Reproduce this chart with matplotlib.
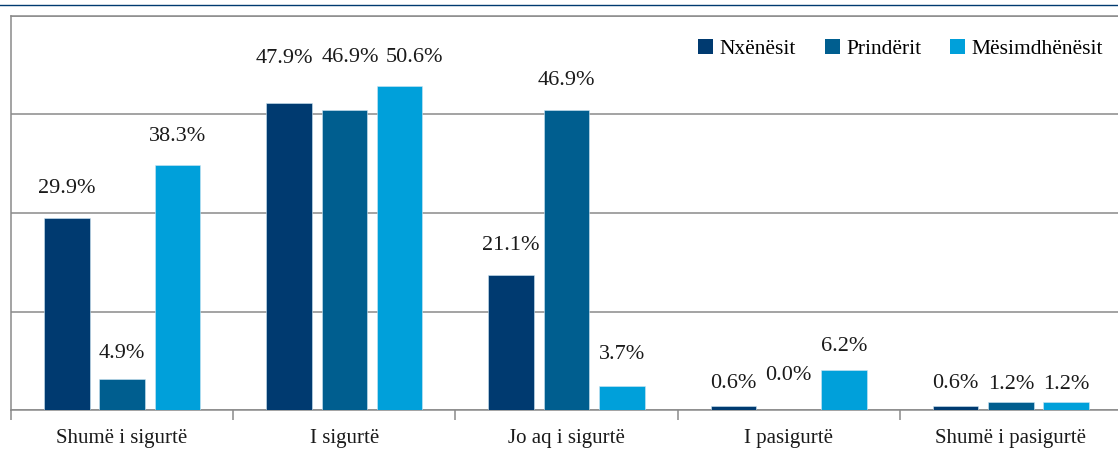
import numpy as np
import matplotlib.pyplot as plt
from matplotlib.lines import Line2D
from matplotlib.patches import Patch

plt.rcParams['font.family'] = ['Liberation Serif', 'DejaVu Serif']

categories = ['Shumë i sigurtë', 'I sigurtë', 'Jo aq i sigurtë', 'I pasigurtë', 'Shumë i pasigurtë']
series = ['Nxënësit', 'Prindërit', 'Mësimdhënësit']
nxenesit = [29.9, 47.9, 21.1, 0.6, 0.6]
prinderit = [4.9, 46.9, 46.9, 0.0, 1.2]
mesimdhenesit = [38.3, 50.6, 3.7, 6.2, 1.2]

colors = ['#003a70', '#005e8f', '#00a0da']
# pixel offsets of the value labels from the bar tops (dx, dy)
label_dy = [[30, 25, 28], [45, 52, 28], [29, 29, 32], [23, 35, 24], [23, 18, 18]]
label_dx = [[0, 0, 0], [-5, 6, 15], [0, 0, 0], [0, 0, 0], [0, 0, 0]]

fig = plt.figure(figsize=(11.18, 4.5), dpi=100)
ax = fig.add_axes([11 / 1118, 40 / 450, 1111 / 1118, 394 / 450])

x = np.arange(len(categories)) + 0.5
width = 0.205
step = 0.249
values = [nxenesit, prinderit, mesimdhenesit]
for i, (name, vals) in enumerate(zip(series, values)):
    pos = x + (i - 1) * step
    ax.bar(pos, vals, width, color=colors[i], edgecolor='#cfe6f3', linewidth=0.4,
           label=name, zorder=3)
    for j, v in enumerate(vals):
        ax.annotate(f'{v:.1f}%', (pos[j], v), xytext=(label_dx[j][i], label_dy[j][i]),
                    textcoords='offset pixels', ha='center', va='center',
                    fontsize=16, color='#1a1a1a')

ax.set_xlim(0, len(categories))
ax.set_ylim(0, 61.5)
ax.set_yticks(np.linspace(0, 61.5, 5))
ax.set_yticklabels([])
ax.tick_params(axis='y', length=0)
ax.grid(axis='y', color='#8a8a8a', linewidth=1.1, zorder=0)

ax.set_xticks(np.arange(len(categories) + 1))
ax.set_xticklabels([])
ax.set_xticks(x, minor=True)
ax.set_xticklabels(categories, minor=True, fontsize=15, color='#1a1a1a')
ax.tick_params(axis='x', which='major', length=7.2, width=1.1, color='#8a8a8a', direction='out')
ax.tick_params(axis='x', which='minor', length=0, pad=14)

for s in ['left', 'top', 'bottom']:
    ax.spines[s].set_color('#8a8a8a')
    ax.spines[s].set_linewidth(1.1)
ax.spines['right'].set_visible(False)

handles = [Patch(facecolor=c) for c in colors]
ax.legend(handles, series, loc='center left', bbox_to_anchor=(678 / 1111, 1 - 33 / 394),
          ncol=3, frameon=False, fontsize=15.5, handlelength=0.7, handleheight=0.7,
          handletextpad=0.3, columnspacing=1.35, borderaxespad=0)

fig.add_artist(Line2D([0, 1], [1 - 4.7 / 450, 1 - 4.7 / 450], color='#003a70', linewidth=1.0))

fig.savefig('out.png', dpi=100)
